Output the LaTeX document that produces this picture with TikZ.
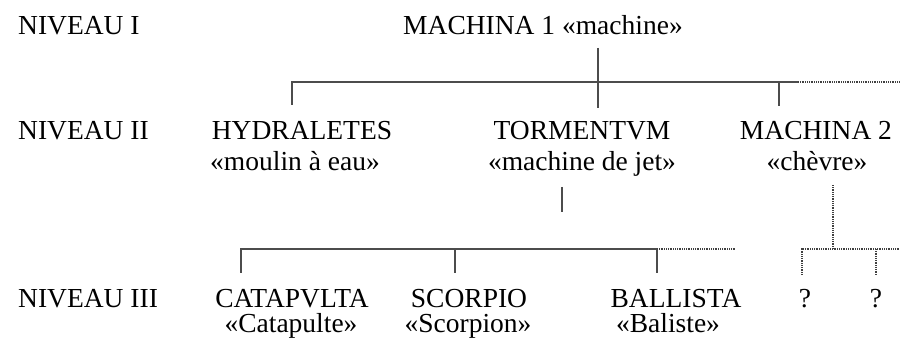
\documentclass[tikz,border=0pt]{standalone}
\usepackage{fontspec}
\setmainfont{Liberation Serif}
\begin{document}
\begin{tikzpicture}[x=1pt,y=-1pt,
  lbl/.style={inner sep=0pt,anchor=base,font=\fontsize{27.5}{31}\selectfont},
  lev/.style={lbl,anchor=base west},
  solidline/.style={draw=black!70,line width=1.1pt},
  dotline/.style={draw=black!75,line width=1.1pt,dash pattern=on 1pt off 0.8pt}]
\useasboundingbox (0,0) rectangle (900,344);
% level labels
\node[lev] (n1) at (18,35) {NIVEAU I};
\node[lev] (n2) at (18,140) {NIVEAU II};
\node[lev] (n3) at (18,308) {NIVEAU III};
% level I
\node[lbl] (m1) at (543,35) {MACHINA 1 «machine»};
% level II
\node[lbl] (hy) at (302,140) {HYDRALETES};
\node[lbl] (hyg) at (295,171) {«moulin à eau»};
\node[lbl] (to) at (582,140) {TORMENTVM};
\node[lbl] (tog) at (582,171) {«machine de jet»};
\node[lbl] (m2) at (816,140) {MACHINA 2};
\node[lbl] (m2g) at (817,171) {«chèvre»};
% level III
\node[lbl] (ca) at (292,308) {CATAPVLTA};
\node[lbl] (cag) at (291,333) {«Catapulte»};
\node[lbl] (sc) at (469,308) {SCORPIO};
\node[lbl] (scg) at (468,333) {«Scorpion»};
\node[lbl] (ba) at (676,308) {BALLISTA};
\node[lbl] (bag) at (668,333) {«Baliste»};
\node[lbl] (q1) at (805,308) {?};
\node[lbl] (q2) at (876,308) {?};
% coordinates
\coordinate (a0) at (598,48);
\coordinate (a1) at (598,108);
\coordinate (b1) at (292,82);
\coordinate (b1d) at (292,105);
\coordinate (b2) at (598,82);
\coordinate (b3) at (779,82);
\coordinate (b3d) at (779,106);
\coordinate (b4) at (798,82);
\coordinate (b5) at (900,82);
\coordinate (t0) at (562,187);
\coordinate (t1) at (562,212);
\coordinate (c1) at (241,249);
\coordinate (c1d) at (241,273);
\coordinate (c2) at (455,249);
\coordinate (c2d) at (455,273);
\coordinate (c3) at (657,249);
\coordinate (c3d) at (657,273);
\coordinate (c4) at (735,249);
\coordinate (d0) at (833,185);
\coordinate (d1) at (833,249);
\coordinate (e1) at (802,249);
\coordinate (e1d) at (802,275);
\coordinate (e2) at (876,249);
\coordinate (e2d) at (876,275);
\coordinate (e3) at (900,249);
% solid connectors
\draw[solidline] (a0) -- (a1);
\draw[solidline] (b1d) -- (b1) -- (b4);
\draw[solidline] (b3) -- (b3d);
\draw[dotline] (b4) -- (b5);
\draw[solidline] (t0) -- (t1);
\draw[solidline] (c1d) -- (c1) -- (c3);
\draw[solidline] (c2) -- (c2d);
\draw[solidline] (c3) -- (c3d);
\draw[dotline] (c3) -- (c4);
% dotted connectors
\draw[dotline] (d0) -- (d1);
\draw[dotline] (e1d) -- (e1) -- (e3);
\draw[dotline] (e2) -- (e2d);
\end{tikzpicture}
\end{document}
